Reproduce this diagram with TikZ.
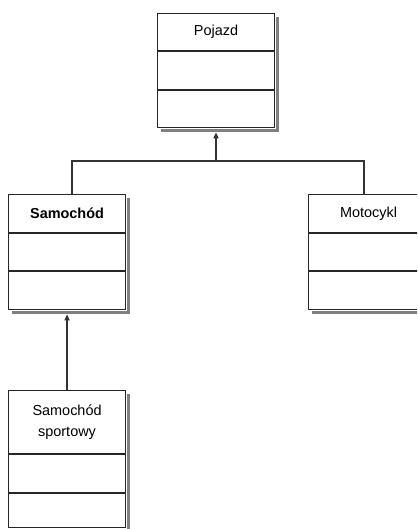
\documentclass[tikz,border=0pt]{standalone}
\usepackage{fontspec}
\setmainfont{Liberation Sans}
\usetikzlibrary{arrows.meta}
\tikzset{
  comp/.style={draw=black!85, line width=1.1pt, fill=white, rectangle, inner sep=0pt, anchor=north west, align=center, font=\fontsize{14.5}{21}\selectfont},
  shadowbox/.style={fill=black!50, draw=none},
  conn/.style={draw=black!80, line width=1.6pt},
  inh/.style={conn, -{Triangle[length=6pt,width=5pt]}},
}
% #1 name, #2 left, #3 top, #4 width, #5 h1, #6 h2, #7 h3, #8 text
\newcommand{\umlclass}[8]{%
  \pgfmathsetmacro{\tot}{#5+#6+#7}
  \node[comp, minimum width=#4bp, minimum height=#5bp] (#1) at (#2,#3) {#8};
  \node[comp, minimum width=#4bp, minimum height=#6bp] (#1b) at (#1.south west) {};
  \node[comp, minimum width=#4bp, minimum height=#7bp] (#1c) at (#1b.south west) {};
  \fill[shadowbox] ($(#1.north east)+(0.5,4)$) rectangle ($(#1c.south east)+(4,4)$);
  \fill[shadowbox] ($(#1c.south west)+(4,0.5)$) rectangle ($(#1c.south east)+(4,4)$);
}
\usetikzlibrary{calc}
\begin{document}
\begin{tikzpicture}[x=1bp,y=-1bp]
\useasboundingbox (0,0) rectangle (417,529);
\begin{scope}
\clip (0,0) rectangle (417,529);
\umlclass{poj}{157}{13}{117}{37}{38}{37}{Pojazd}
\umlclass{sam}{8}{194}{117}{38}{37}{38}{\textbf{Samochód}}
\umlclass{mot}{308}{194}{120}{38}{37}{38}{Motocykl}
\umlclass{spo}{8}{390}{117}{63}{38}{34}{Samochód\\sportowy}
\coordinate (j) at (216,161);
\coordinate (jl) at (72,161);
\coordinate (jr) at (364,161);
\draw[conn] (sam.north -| jl) -- (jl) -- (jr) -- (mot.north -| jr);
\draw[inh] (j) -- ($(pojc.south -| j)+(0,4)$);
\draw[inh] (spo.north) -- ($(samc.south)+(0,4)$);
\end{scope}
\end{tikzpicture}
\end{document}
